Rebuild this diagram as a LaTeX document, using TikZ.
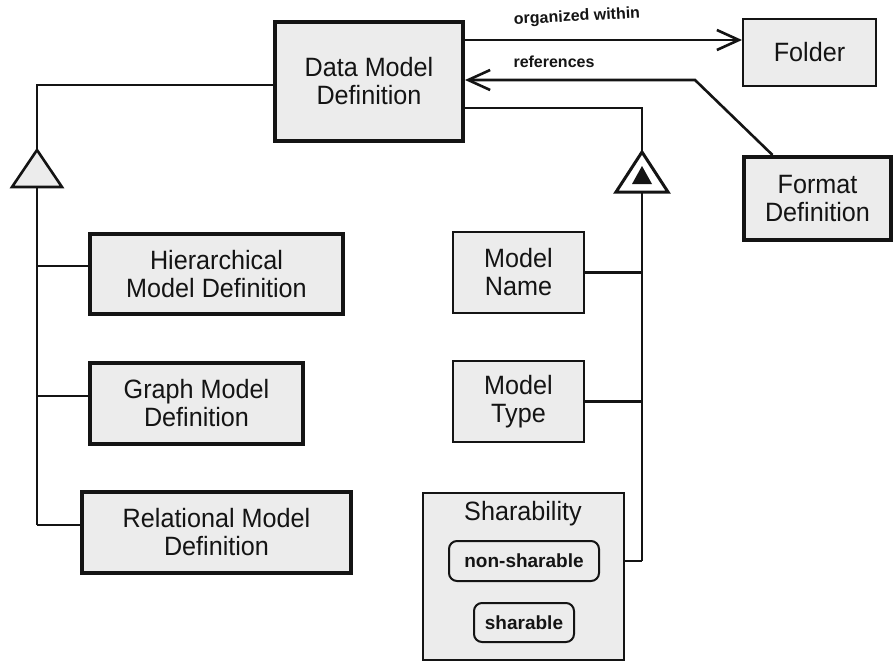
\documentclass[tikz,border=0pt]{standalone}
\usepackage{fontspec}
\setmainfont{Liberation Sans}[FakeStretch=0.95]
\newfontfamily\lblfont{Liberation Sans}
\usetikzlibrary{arrows.meta}
\definecolor{boxgray}{RGB}{236,236,236}
\definecolor{inkc}{RGB}{20,20,20}
\tikzset{
  box/.style={draw=inkc, fill=boxgray, inner sep=0pt, align=center,
    text=inkc, font=\fontsize{26.5}{28}\selectfont},
  thickbox/.style={box, line width=4pt},
  thinbox/.style={box, line width=2pt},
  pill/.style={draw=inkc, fill=boxgray, line width=2pt, rounded corners=8pt,
    inner sep=0pt, text=inkc, font=\lblfont\bfseries\fontsize{19}{19}\selectfont},
  conn/.style={draw=inkc, line width=2.6pt},
  arr/.style={conn, -{Straight Barb[length=22pt,width=20pt,line width=2.6pt]}},
  lbl/.style={text=inkc, font=\lblfont\bfseries\fontsize{16}{16}\selectfont, inner sep=0pt},
}
\begin{document}
\begin{tikzpicture}[x=1pt,y=-1pt]
\useasboundingbox (0,0) rectangle (896,661);
\fill[white] (0,0) rectangle (896,661);

% boxes
\node[thickbox, minimum width=188pt, minimum height=119pt] (dmd) at (369,81.5) {Data Model\\Definition};
\node[thinbox, minimum width=133pt, minimum height=67pt] (folder) at (809.5,52.5) {Folder};
\node[thickbox, minimum width=147pt, minimum height=83pt] (format) at (817.5,198.5) {Format\\Definition};
\node[thickbox, minimum width=253pt, minimum height=80pt] (hier) at (216.5,274) {Hierarchical\\Model Definition};
\node[thickbox, minimum width=213pt, minimum height=81pt] (graph) at (196.5,403.5) {Graph Model\\Definition};
\node[thickbox, minimum width=269pt, minimum height=81pt] (rel) at (216.5,532.5) {Relational Model\\Definition};
\node[thinbox, minimum width=131pt, minimum height=81pt] (mname) at (518.5,272.5) {Model\\Name};
\node[thinbox, minimum width=131pt, minimum height=81pt] (mtype) at (518.5,401.5) {Model\\Type};
\node[thinbox, minimum width=201pt, minimum height=167pt] (shar) at (523.5,576.5) {};
\node[text=inkc, font=\fontsize{26.5}{28}\selectfont, inner sep=0pt] (shartitle) at (523,514) {Sharability};
\node[pill, minimum width=150pt, minimum height=40pt] (nonshar) at (524,561) {non-sharable};
\node[pill, minimum width=100pt, minimum height=39pt] (sharable) at (524,622.5) {sharable};

% left generalization
\coordinate (lapex) at (37,150);
\coordinate (lbl1) at (12,187);
\coordinate (lbr) at (62,187);
\coordinate (lbase) at (37,187);
\coordinate (lend) at (37,525);
\draw[conn] ([yshift=-3.5pt]dmd.west) -| (lapex);
\draw[conn, fill=boxgray, line join=miter] (lapex) -- (lbl1) -- (lbr) -- cycle;
\draw[conn] (lbase) -- (lend);
\draw[conn] ([yshift=8pt]hier.west) -- ([yshift=8pt]hier.west -| lbase);
\draw[conn] ([yshift=7.5pt]graph.west) -- ([yshift=7.5pt]graph.west -| lbase);
\draw[conn] ([yshift=7.5pt]rel.west) -- ([yshift=7.5pt]rel.west -| lbase);

% right aggregation
\coordinate (rapex) at (642,152);
\coordinate (rbl) at (616,192);
\coordinate (rbr) at (668,192);
\coordinate (rbase) at (642,192);
\coordinate (riapex) at (642,166);
\coordinate (ribl) at (632,184);
\coordinate (ribr) at (652,184);
\draw[conn] ([yshift=-26.5pt]dmd.east) -| (rapex);
\draw[conn, fill=white, line width=3pt, line join=miter] (rapex) -- (rbl) -- (rbr) -- cycle;
\fill[inkc] (riapex) -- (ribl) -- (ribr) -- cycle;
\draw[conn] (rbase) -- (rbase |- nonshar);
\draw[conn] (mname.east) -- (mname.east -| rbase);
\draw[conn] (mtype.east) -- (mtype.east -| rbase);
\draw[conn] (shar.east |- nonshar) -- (nonshar -| rbase);

% associations
\draw[arr] ([yshift=41.5pt]dmd.east) -- ([yshift=41.5pt]dmd.east -| folder.west);
\node[lbl, rotate=3] (lorg) at (577,17) {organized within};
\coordinate (refbend) at (695,80);
\draw[arr, line join=miter] ([xshift=-45pt]format.north) -- (refbend) -- ([yshift=1.5pt]dmd.east);
\node[lbl] (lref) at (554,62) {references};
\end{tikzpicture}
\end{document}
